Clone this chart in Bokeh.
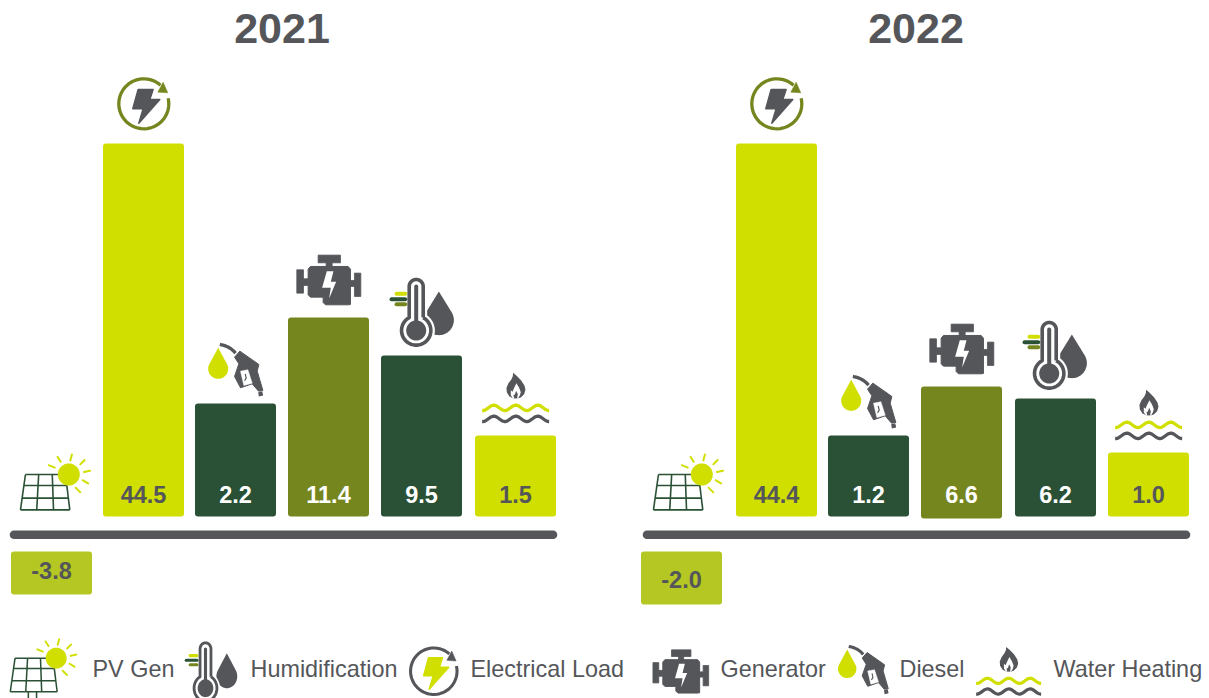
import math
from bokeh.plotting import figure
from bokeh.models import Range1d
from bokeh.core.properties import value
from bokeh.embed import file_html
from bokeh.resources import INLINE

# ---------- data ----------
categories = ["PV Gen", "Electrical Load", "Diesel", "Generator", "Humidification", "Water Heating"]
bar_categories = categories[1:]
labels_2021 = ["44.5", "2.2", "11.4", "9.5", "1.5"]
labels_2022 = ["44.4", "1.2", "6.6", "6.2", "1.0"]
heights_2021 = [373, 113, 199, 161, 81]
heights_2022 = [373, 81, 130, 118, 64]
bases_2021 = [0, 0, 0, 0, 0]
bases_2022 = [0, 0, -2, 0, 0]
pv_label_2021 = "-3.8"
pv_label_2022 = "-2.0"
pv_drop_2021 = 78
pv_drop_2022 = 88
legend_labels = ["PV Gen", "Humidification", "Electrical Load", "Generator", "Diesel", "Water Heating"]
titles = ["2021", "2022"]

LIME, DARK, OLIVE, GRAY, PVBOX = "#d0df00", "#2a5135", "#76861f", "#54565a", "#b5c722"
bar_colors = [LIME, DARK, OLIVE, DARK, LIME]
label_colors = [GRAY, "#ffffff", "#ffffff", "#ffffff", GRAY]
FONT = value("Liberation Sans")

BASE_PX = 516
p = figure(width=1209, height=698, output_backend="svg", toolbar_location=None,
           x_range=Range1d(0, 1209), y_range=Range1d(BASE_PX - 698, BASE_PX),
           x_axis_type=None, y_axis_type=None, min_border=0,
           styles={"position": "absolute", "left": "0px", "top": "0px"})
p.grid.visible = False
p.outline_line_color = None
p.background_fill_color = "#ffffff"
p.border_fill_color = "#ffffff"


def Y(py):
    return BASE_PX - py


# ---------- icon helpers (local units: 1/3 px, y down; s may be a (sx, sy) pair) ----------
def sxy(s):
    return s if isinstance(s, tuple) else (s, s)


def tx(pts, ax, ay, s):
    sx, sy = sxy(s)
    return [ax + x * sx / 3 for x, _ in pts], [Y(ay + y * sy / 3) for _, y in pts]


def fill(pts, color, ax, ay, s, round_w=0.0):
    xs, ys = tx(pts, ax, ay, s)
    if round_w:
        p.patch(xs, ys, fill_color=color, line_color=color, line_width=round_w, line_join="round")
    else:
        p.patch(xs, ys, fill_color=color, line_color=None)


def stroke(pts, color, width, ax, ay, s, cap="butt"):
    xs, ys = tx(pts, ax, ay, s)
    p.line(xs, ys, line_color=color, line_width=width * min(sxy(s)), line_cap=cap, line_join="round")


def arc(cx, cy, r, a0, a1, n=48):
    return [(cx + r * math.cos(math.radians(a0 + (a1 - a0) * i / n)),
             cy + r * math.sin(math.radians(a0 + (a1 - a0) * i / n))) for i in range(n + 1)]


def drop(cx, cy, r, tip):
    a = math.degrees(math.asin(r / tip))
    return [(cx, cy - tip)] + arc(cx, cy, r, -90 + (90 - a), 270 - (90 - a))


def rect(x0, y0, x1, y1):
    return [(x0, y0), (x1, y0), (x1, y1), (x0, y1)]


def bezier(p0, p1, p2, n=12):
    return [((1 - t) ** 2 * p0[0] + 2 * (1 - t) * t * p1[0] + t * t * p2[0],
             (1 - t) ** 2 * p0[1] + 2 * (1 - t) * t * p1[1] + t * t * p2[1])
            for t in [i / n for i in range(n + 1)]]


def icon_elec(ax, ay, s, ring, bolt):
    stroke(arc(0, 0, 75, -13, 312), ring, 3.3, ax, ay, s)
    fill([(58, -65), (72, -33), (42, -35)], ring, ax, ay, s, 0.5)
    fill([(-17, -43), (28, -43), (18, -13), (48, -13), (-15, 58), (-2, 15), (-33, 15)], bolt, ax, ay, s, 1.5)


def icon_engine(ax, ay, s):
    for r in [rect(-32, -74, 35, -51), rect(-8, -51, 10, -38), rect(-96, -30, -76, 40),
              rect(-76, -3, -62, 17), rect(62, 2, 78, 20), rect(77, -20, 96, 50)]:
        fill(r, GRAY, ax, ay, s, 0.8)
    fill([(-62, -32), (-55, -40), (58, -40), (65, -32), (65, 74), (58, 75), (-10, 75), (-17, 68),
          (-17, 52), (-55, 52), (-62, 45)], GRAY, ax, ay, s, 1.0)
    fill([(-6, -26), (14, -26), (6, 6), (22, 6), (1, 56), (6, 24), (-20, 24)], "#ffffff", ax, ay, s)


def icon_thermo(ax, ay, s, drop_spec=(68, -31, 45, 86)):
    fill(drop(*drop_spec), GRAY, ax, ay, s)
    r = 44
    hw = 21
    a = math.degrees(math.asin(hw / r))
    outline = arc(0, 0, r, -90 + a, 270 - a) + arc(0, -132, hw, 180, 360)
    outline.append(outline[0])
    xs, ys = tx(outline, ax, ay, s)
    p.patch(xs, ys, fill_color="#ffffff", line_color="#ffffff", line_width=8 * min(sxy(s)), line_join="round")
    stroke(outline, GRAY, 3.6, ax, ay, s)
    stroke([(0, 0), (0, -132)], GRAY, 4.0, ax, ay, s, "round")
    fill(arc(0, 0, 30, 0, 360), GRAY, ax, ay, s)
    stroke([(-59, -110), (-33, -110)], LIME, 4.0, ax, ay, s, "round")
    stroke([(-74, -94), (-33, -94)], DARK, 4.0, ax, ay, s, "round")
    stroke([(-59, -79), (-33, -79)], OLIVE, 4.0, ax, ay, s, "round")


def icon_diesel(ax, ay, s):
    fill(drop(0, 0, 30, 63), LIME, ax, ay, s)
    stroke(bezier((5, -73), (35, -68), (52, -47)), GRAY, 3.3, ax, ay, s)
    fill([(65, -53), (122, -13), (117, 7), (134, 65), (121, 67), (102, 45), (67, 57), (49, 23), (62, -15), (49, -35)],
         GRAY, ax, ay, s, 1.0)
    fill([(67, 7), (89, 3), (102, 43), (77, 50)], "#ffffff", ax, ay, s, 0.5)
    stroke([(81, 15), (84, 28), (79, 36)], GRAY, 1.2, ax, ay, s)
    fill([(120, 70), (132, 67), (135, 80), (122, 83)], GRAY, ax, ay, s)


def icon_water(ax, ay, s):
    outer = [(-8, -43), (4, -33), (16, -20), (26, -5), (29, 8), (25, 21), (15, 31), (7, 33), (-8, 33), (-19, 28),
             (-27, 15), (-28, 2), (-22, -12), (-13, -24), (-9, -33)]
    inner = [(2, -12), (10, 2), (15, 15), (12, 25), (7, 33), (-9, 33), (-15, 24), (-15, 9), (-10, 14), (-5, 2)]
    core = [(1, 11), (6, 21), (4, 33), (-5, 33), (-7, 23), (-3, 23)]
    fill(outer, GRAY, ax, ay, s)
    fill(inner, "#ffffff", ax, ay, s)
    fill(core, GRAY, ax, ay, s)
    for y0, col in [(62, LIME), (95, GRAY)]:
        pts = [(x, y0 - 8 * math.cos(2 * math.pi * x / 66)) for x in range(-101, 101, 3)]
        stroke(pts, col, 3.3, ax, ay, s)


def icon_solar(ax, ay, s, stand=False):
    lt, rt, lb, rb = (-130, 0), (-10, 0), (-145, 106), (3, 106)
    rows = [0.0, 0.31, 0.67, 1.0]
    cols = [0.0, 0.33, 0.67, 1.0]
    for t in rows:
        stroke([(lt[0] + (lb[0] - lt[0]) * t, t * 106), (rt[0] + (rb[0] - rt[0]) * t, t * 106)], DARK, 1.6, ax, ay, s)
    for c in cols:
        stroke([(lt[0] + (rt[0] - lt[0]) * c, 0), (lb[0] + (rb[0] - lb[0]) * c, 106)], DARK, 1.6, ax, ay, s)
    if stand:
        stroke([(-88, 106), (-88, 128)], DARK, 1.6, ax, ay, s)
        stroke([(-62, 106), (-62, 128)], DARK, 1.6, ax, ay, s)
        stroke([(-108, 128), (-42, 128)], DARK, 1.6, ax, ay, s)
    fill(arc(0, 0, 33, 0, 360), LIME, ax, ay, s)
    for a, b in [((-62, -29), (-40, -20)), ((-35, -55), (-23, -36)), ((10, -62), (4, -40)), ((49, -45), (33, -29)),
                 ((66, -12), (43, -7)), ((60, 28), (40, 16)), ((36, 55), (19, 38))]:
        stroke([a, b], LIME, 2.0, ax, ay, s)


# ---------- panels ----------
panels = [
    dict(dx=0, bar_x=[102.5, 194.5, 287.5, 380.5, 474.5], heights=heights_2021, bases=bases_2021, labels=labels_2021,
         pv_box=10.5, pv_drop=pv_drop_2021, pv_label=pv_label_2021, pv_y=569.5, title=titles[0], title_x=281.5),
    dict(dx=633, bar_x=[735.5, 827.5, 920.5, 1014.5, 1107.5], heights=heights_2022, bases=bases_2022, labels=labels_2022,
         pv_box=640.5, pv_drop=pv_drop_2022, pv_label=pv_label_2022, pv_y=579, title=titles[1], title_x=915.5),
]
BAR_W = 81

for pn in panels:
    xs = pn["bar_x"]
    p.quad(left=xs, right=[x + BAR_W for x in xs], top=pn["heights"], bottom=pn["bases"],
           fill_color=bar_colors, line_color=None, border_radius=3)
    p.text(x=[x + BAR_W / 2 for x in xs], y=[Y(494)] * 5, text=pn["labels"], text_color=label_colors,
           text_font=FONT, text_font_style="bold", text_font_size="23.5px", text_align="center",
           text_baseline="middle")
    p.line([13.5 + pn["dx"], 552.5 + pn["dx"]], [Y(534.3)] * 2, line_color=GRAY, line_width=8.6, line_cap="round")
    p.quad(left=[pn["pv_box"]], right=[pn["pv_box"] + BAR_W], top=[Y(551)], bottom=[-pn["pv_drop"]],
           fill_color=PVBOX, line_color=None, border_radius=3)
    p.text(x=[pn["pv_box"] + BAR_W / 2], y=[Y(pn["pv_y"])], text=[pn["pv_label"]],
           text_color=GRAY, text_font=FONT, text_font_style="bold", text_font_size="23.5px",
           text_align="center", text_baseline="middle")
    p.text(x=[pn["title_x"]], y=[Y(28)], text=[pn["title"]], text_color=GRAY, text_font=FONT,
           text_font_style="bold", text_font_size="43px", text_align="center", text_baseline="middle")
    d = pn["dx"]
    tops = [BASE_PX - h for h in pn["heights"]]
    icon_solar(68.3 + d, 474, 1)
    icon_elec(143.3 + d, 103.3, 1, OLIVE, GRAY)
    icon_diesel(217.7 + d, tops[1] - 34.7, 1)
    icon_engine(328.3 + d, 279.3 if d == 0 else 348.3, 1)
    icon_thermo(415.7 + d, tops[3] - 25, 1)
    icon_water(515.3 + d, tops[4] - 48.3, 1)

# ---------- legend ----------
legend_x = [92, 250, 470, 720, 899, 1053]
p.text(x=legend_x, y=[Y(668)] * 6, text=legend_labels, text_color=GRAY, text_font=FONT,
       text_font_size="23.4px", text_align="left", text_baseline="middle")
icon_solar(55.7, 657.7, 0.95, stand=True)
icon_thermo(205, 687.7, (0.78, 0.89), drop_spec=(82, -40, 40, 78))
icon_elec(433.3, 670.7, 0.93, GRAY, LIME)
icon_engine(680.3, 670.8, 0.87)
icon_diesel(846.7, 668.3, 0.92)
icon_water(1008.3, 660.3, 0.97)

open("out.html", "w").write(file_html(p, INLINE))
